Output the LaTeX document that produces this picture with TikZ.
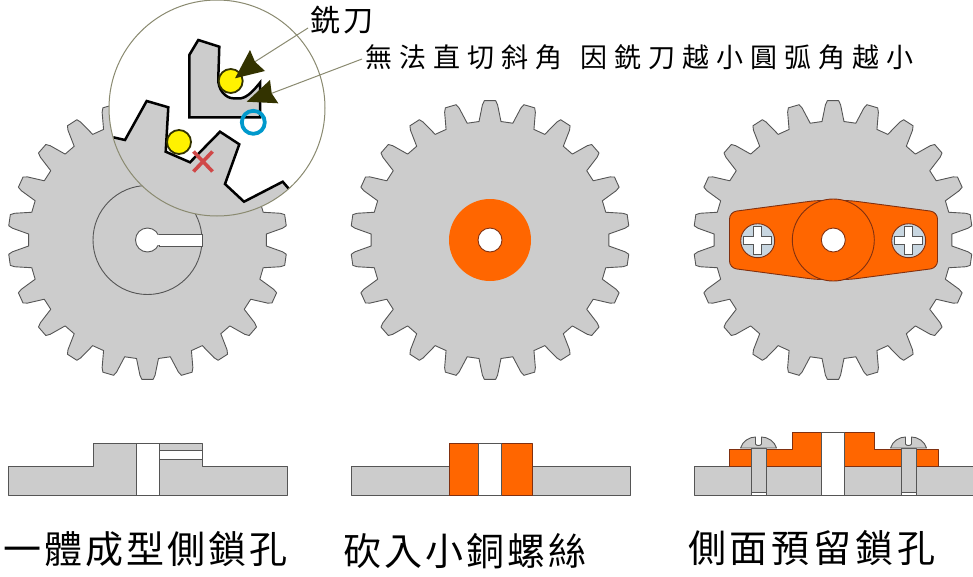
\documentclass[tikz,border=0pt]{standalone}
\usepackage{fontspec}
\newfontfamily\cjk{Noto Sans CJK TC}
\definecolor{gearfill}{HTML}{CCCCCC}
\definecolor{gearline}{HTML}{555555}
\definecolor{brass}{HTML}{FF6600}
\definecolor{brassline}{HTML}{803010}
\definecolor{olive}{HTML}{333300}
\definecolor{leader}{HTML}{8A8A70}
\definecolor{toolblue}{HTML}{0099CC}
\definecolor{crossred}{HTML}{D04848}
\definecolor{screwface}{HTML}{C8D6E0}
\tikzset{
  part/.style={fill=gearfill,draw=gearline,line width=0.9pt,line join=round},
  brasspart/.style={fill=brass,draw=brassline,line width=0.9pt,line join=round},
  holepart/.style={fill=white,draw=gearline,line width=0.9pt},
  heavy/.style={draw=black,line width=2.5pt,line join=miter},
  cutter/.style={fill=yellow,draw=olive,line width=1.8pt},
  leaderline/.style={draw=leader,line width=1pt},
  pointer/.style={fill=olive,draw=none},
  label/.style={inner sep=0pt,anchor=west,text=black},
}
\newcommand{\drawgear}[1]{%
  \begin{scope}[shift={(#1,240)}]
    \draw[part] (2.88:119pt)
      \foreach \k in {0,...,21}{
        \pgfextra{\pgfmathsetmacro{\a}{8.1818+\k*16.3636}}
        -- (\a-5.3:119pt) -- (\a-3.2:135.5pt) -- (\a-2.3:139.5pt)
        -- (\a+2.3:139.5pt) -- (\a+3.2:135.5pt) -- (\a+5.3:119pt)
      } -- cycle;
  \end{scope}}
\newcommand{\crossscrew}[1]{%
  \begin{scope}[shift={(#1,240.7)}]
    \draw[fill=screwface,draw=brassline,line width=0.9pt] (0,0) circle (17);
    \draw[fill=white,draw=gearline,line width=0.9pt]
      (-4,-14) -- (4,-14) -- (4,-4) -- (14,-4) -- (14,4) -- (4,4) -- (4,14)
      -- (-4,14) -- (-4,4) -- (-14,4) -- (-14,-4) -- (-4,-4) -- cycle;
  \end{scope}}
\newcommand{\sidescrew}[1]{%
  \begin{scope}[shift={(#1,0)}]
    \draw[part] (-7.5,448) -- (-7.5,492) -- (7.5,492) -- (7.5,448) -- cycle;
    \draw[part] (-18,448) .. controls (-16,441) and (-9,437) .. (-3,437)
      -- (-3,444) .. controls (-2,446) and (2,446) .. (3,444) -- (3,437)
      .. controls (9,437) and (16,441) .. (18,448) -- cycle;
    \draw[holepart] (-7.5,492) rectangle (7.5,495);
  \end{scope}}
\begin{document}
\begin{tikzpicture}[x=1pt,y=-1pt]
\useasboundingbox (0,0) rectangle (973,576);
% --- gears
\drawgear{147.5}
\drawgear{490}
\drawgear{833}
% left gear: hub, hole, slot
\draw[part] (147.5,240) circle (54.5);
\draw[holepart] (159,234) rectangle (202.5,246);
\draw[holepart] (147.5,240) circle (12);
\fill[white] (155,235) rectangle (162,245);
% middle gear
\fill[brass] (490,240) circle (41);
\draw[holepart,draw=brassline] (490,240) circle (12);
% right gear: plate
\draw[brasspart,rounded corners=7pt] (729.5,212) -- (816,200.5) -- (850,200.5) -- (937.5,212)
  -- (937.5,268) -- (850,279.5) -- (816,279.5) -- (729.5,268) -- cycle;
\draw[brasspart] (833.3,240) circle (41);
\draw[fill=white,draw=brassline,line width=0.9pt] (833.3,240) circle (12);
\crossscrew{757.7}
\crossscrew{908.7}
% --- magnifier
\fill[white] (217,108) circle (108);
\begin{scope}
  \clip (217,108) circle (108);
  \fill[gearfill] (113.3,137.3) -- (125,140) -- (146.7,101) -- (168.3,107.3) -- (165.7,151.7)
    -- (190,162.3) -- (220,131.7) -- (239.3,144.3) -- (225,184) -- (244,201.7)
    -- (282.7,181.7) -- (289.3,189.3) -- (300,230) -- (100,230) -- (100,134) -- cycle;
  \draw[heavy] (113.3,137.3) -- (125,140) -- (146.7,101) -- (168.3,107.3) -- (165.7,151.7)
    -- (190,162.3) -- (220,131.7) -- (239.3,144.3) -- (225,184) -- (244,201.7)
    -- (282.7,181.7) -- (289.3,189.3);
\end{scope}
\draw[leader,line width=1pt] (217,108) circle (108);
\draw[heavy,fill=gearfill] (198.3,40) -- (219.3,46.7) -- (218.3,78)
  .. controls (217.5,90) and (226,98.3) .. (233.3,98.3) -- (241,98.3)
  .. controls (248,97) and (254,90) .. (260,82.7) -- (260,117.3) -- (189.3,117.3) -- (189.3,55) -- cycle;
\draw[cutter] (230.7,81) circle (12);
\draw[cutter] (179,142) circle (12);
\draw[toolblue,line width=3.8pt] (253.3,122.3) circle (11.5);
\draw[crossred,line width=3.6pt] (193.5,151.5) -- (212.5,171.5) (212.5,151.5) -- (193.5,171.5);
% --- labels and leaders
\node[label] (cuttertext) at (310,20) {\cjk\fontsize{30}{30}\selectfont\addfontfeature{LetterSpace=10}銑刀};
\node[label] (notetext) at (365,57) {\cjk\fontsize{27}{27}\selectfont\addfontfeature{LetterSpace=26}無法直切斜角\hspace{18pt}因銑刀越小圓弧角越小};
\coordinate (cutterend) at (308,28);
\coordinate (noteend) at (362,59);
\coordinate (cuttertip) at (255,61.7);
\coordinate (notetip) at (271.7,93.3);
\draw[leaderline] (cutterend) -- (cuttertip);
\draw[leaderline] (noteend) -- (notetip);
\fill[pointer] (235,78.3) -- (250,50) -- (255,61.7) -- (265,71) -- cycle;
\fill[pointer] (246.7,101.7) -- (270,80) -- (271.7,93.3) -- (278.3,103.3) -- cycle;
% --- side view 1
\draw[part] (8.5,466) -- (93,466) -- (93,443) -- (202,443) -- (202,466) -- (287.5,466)
  -- (287.5,495) -- (8.5,495) -- cycle;
\draw[holepart] (136,443) rectangle (159,495);
\draw[holepart] (159,450) rectangle (202,459);
% --- side view 2
\draw[part] (351,466) rectangle (630,495);
\draw[brasspart] (449,443) rectangle (532,495);
\draw[holepart] (478,443) rectangle (501,495);
% --- side view 3
\draw[part] (694,466) rectangle (973,495);
\draw[brasspart] (729,466) -- (729,449) -- (792,449) -- (792,432) -- (874,432) -- (874,449)
  -- (938,449) -- (938,466) -- cycle;
\draw[holepart] (821,432) rectangle (844,495);
\sidescrew{758.5}
\sidescrew{908.5}
% --- captions
\node[label] (caption1) at (3,549) {\cjk\fontsize{38}{38}\selectfont\addfontfeature{LetterSpace=8}一體成型側鎖孔};
\node[label] (caption2) at (343,551) {\cjk\fontsize{38}{38}\selectfont\addfontfeature{LetterSpace=8}砍入小銅螺絲};
\node[label] (caption3) at (688,548) {\cjk\fontsize{38}{38}\selectfont\addfontfeature{LetterSpace=10}側面預留鎖孔};
\end{tikzpicture}
\end{document}
